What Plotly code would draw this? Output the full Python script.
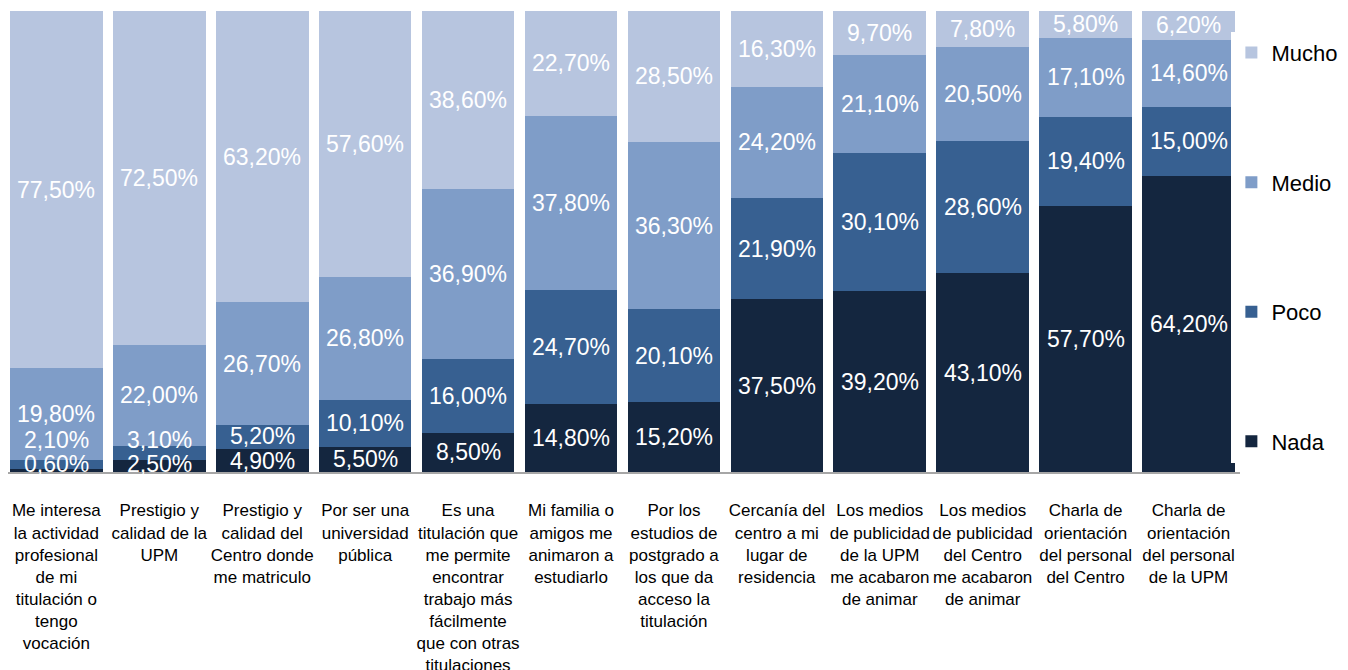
import plotly.graph_objects as go

categorias = [
    "Me interesa<br>la actividad<br>profesional<br>de mi<br>titulación o<br>tengo<br>vocación",
    "Prestigio y<br>calidad de la<br>UPM",
    "Prestigio y<br>calidad del<br>Centro donde<br>me matriculo",
    "Por ser una<br>universidad<br>pública",
    "Es una<br>titulación que<br>me permite<br>encontrar<br>trabajo más<br>fácilmente<br>que con otras<br>titulaciones",
    "Mi familia o<br>amigos me<br>animaron a<br>estudiarlo",
    "Por los<br>estudios de<br>postgrado a<br>los que da<br>acceso la<br>titulación",
    "Cercanía del<br>centro a mi<br>lugar de<br>residencia",
    "Los medios<br>de publicidad<br>de la UPM<br>me acabaron<br>de animar",
    "Los medios<br>de publicidad<br>del Centro<br>me acabaron<br>de animar",
    "Charla de<br>orientación<br>del personal<br>del Centro",
    "Charla de<br>orientación<br>del personal<br>de la UPM",
]

nada = [0.6, 2.5, 4.9, 5.5, 8.5, 14.8, 15.2, 37.5, 39.2, 43.1, 57.7, 64.2]
poco = [2.1, 3.1, 5.2, 10.1, 16.0, 24.7, 20.1, 21.9, 30.1, 28.6, 19.4, 15.0]
medio = [19.8, 22.0, 26.7, 26.8, 36.9, 37.8, 36.3, 24.2, 21.1, 20.5, 17.1, 14.6]
mucho = [77.5, 72.5, 63.2, 57.6, 38.6, 22.7, 28.5, 16.3, 9.7, 7.8, 5.8, 6.2]

series = [
    ("Nada", nada, "#14263f"),
    ("Poco", poco, "#376091"),
    ("Medio", medio, "#7f9dc8"),
    ("Mucho", mucho, "#b7c5df"),
]

x = list(range(len(categorias)))

fig = go.Figure()
for k, (nombre, vals, color) in enumerate(series):
    fig.add_trace(go.Bar(
        x=x, y=vals, name=nombre, legendgroup=nombre,
        legendrank=len(series) - k,
        marker=dict(color=color, line=dict(width=0)),
        hoverinfo="name+y",
    ))

# etiquetas: centradas en cada tramo, empujadas hacia arriba si se solapan
alto_etiqueta = 5.3
for i in x:
    base = 0
    prev = None
    for nombre, vals, color in series:
        v = vals[i]
        centro = base + v / 2
        y = max(centro, 1.7)
        if prev is not None:
            y = max(y, prev + alto_etiqueta)
        prev = y
        base += v
        fig.add_annotation(
            x=i, y=y, text=f"{v:.2f}".replace(".", ",") + "%",
            showarrow=False, yanchor="middle",
            font=dict(color="white", size=23, family="Liberation Sans"),
        )

# la página tiene 8px de margen, por eso 1340x662
fig.update_layout(
    width=1340, height=662,
    barmode="stack", bargap=0.1,
    plot_bgcolor="white", paper_bgcolor="white",
    margin=dict(l=0, r=108, t=3, b=198, autoexpand=False),
    font=dict(family="Liberation Sans", color="black"),
    legend=dict(
        x=0.993, y=0.955, xanchor="left", yanchor="top",
        traceorder="grouped", tracegroupgap=98,
        font=dict(size=22), itemwidth=30,
    ),
    showlegend=True,
)
fig.update_xaxes(
    tickvals=x, ticktext=categorias, tickangle=0,
    tickfont=dict(size=17), showline=True, linecolor="#a6a6a6", linewidth=2,
    ticklabelstandoff=22, range=[-0.47, 11.5], showgrid=False,
)
fig.update_yaxes(range=[0, 100], visible=False)

fig.write_html("out.html")
